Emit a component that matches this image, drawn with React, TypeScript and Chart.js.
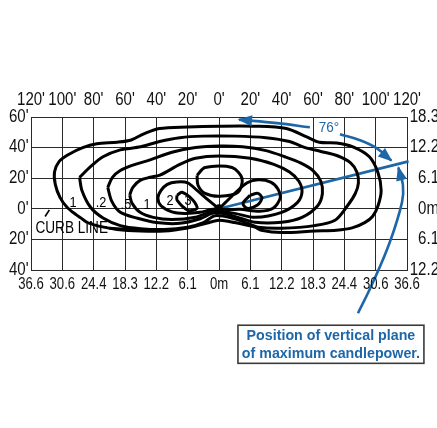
import React, { useEffect, useRef } from "react";
import { Chart, registerables } from "chart.js";

Chart.register(...registerables);

// ---- tick labels ----
const topFeetLabels = ["120'", "100'", "80'", "60'", "40'", "20'", "0'", "20'", "40'", "60'", "80'", "100'", "120'"];
const bottomMeterLabels = ["36.6", "30.6", "24.4", "18.3", "12.2", "6.1", "0m", "6.1", "12.2", "18.3", "24.4", "30.6", "36.6"];
const leftFeetLabels = ["40'", "20'", "0'", "20'", "40'", "60'"];
const rightMeterLabels = ["12.2", "6.1", "0m", "6.1", "12.2", "18.3"];

// ---- isofootcandle contours (feet) ----
const contour01: [number, number][] = [
  [-84, -9], [-91, -4], [-97, 1], [-101.5, 7.5], [-104.5, 16], [-105, 24], [-102, 31], [-96, 35.5], [-87, 40],
  [-78, 42.5], [-65, 43.5], [-56, 45], [-48, 49], [-38, 52.5], [-20, 53.5], [0, 54], [22, 54], [43, 52.5],
  [56, 47], [64, 43.5], [75, 43], [85.5, 40.5], [96, 34], [101.5, 23.5], [103.5, 12], [101.5, 2], [98, -5],
  [93, -9], [85, -12.5], [75, -14], [61, -14.5], [40, -15.5], [27, -14], [23, -12], [10, -9], [0, -7.5],
  [-10, -10], [-20, -12.5], [-35, -14.5], [-50, -14.5], [-65, -13.5], [-76, -11.5], [-84, -9],
];
const contour02: [number, number][] = [
  [-89, 20.5], [-87.5, 12], [-82, 1], [-74, -6], [-63, -11], [-50, -13], [-35, -13.5], [-20, -12], [-10, -9],
  [-2.5, -4.5], [10, -6.5], [18.5, -9.5], [25, -12], [40, -12.7], [61, -11], [74, -7.5], [82, 2], [87, 10],
  [89, 17], [88, 24], [84, 30], [76, 34.5], [65, 37.5], [55, 40], [45, 44], [30, 46.5], [10, 47.5], [-10, 47.5],
  [-25, 46.5], [-38, 44], [-50, 40.5], [-63, 38.5], [-74, 34], [-82, 27.5], [-89, 20.5],
];
const contour05: [number, number][] = [
  [-71, 14], [-68.5, 5], [-63, -2.3], [-52, -6.2], [-40, -9], [-25, -9.5], [-12, -6.5], [-2.5, -2.5], [10, -5],
  [23, -8.8], [40, -8.8], [53, -5.6], [63, 2], [66, 10], [65, 18], [60, 25], [52, 30], [42, 34], [30, 38],
  [15, 40.5], [0, 41], [-15, 40], [-30, 37], [-44, 32], [-55, 28.5], [-63, 25], [-68, 20.5], [-71, 14],
];
const contour1: [number, number][] = [
  [-57, 9], [-55.5, 3.6], [-50.4, -2.3], [-42, -5.6], [-30, -7], [-15, -5.5], [-3, -1.5], [10, -3], [23, -5.6],
  [40, -2.3], [50, 4], [53, 11], [51, 18], [45, 24], [35, 29], [20, 33], [0, 34.5], [-15, 33], [-25, 29],
  [-37.7, 22], [-44, 20.6], [-50.4, 18.6], [-55, 14], [-57, 9],
];
const contour2: [number, number][] = [
  [0, 0], [-6, 5], [-14, 12], [-20, 17], [-27, 17.5], [-33, 16], [-37, 12], [-39, 7], [-37, 2], [-30, -2],
  [-22, -3], [-12, -2.3], [-5, -0.5], [0, 0], [6, -0.5], [13.4, -0.3], [26, -1.6], [34.5, 0.3], [39, 6.9],
  [37.6, 13], [33, 17.5], [25, 19], [18, 17], [10, 10], [4, 4], [0, 0],
];
const contour3Left: [number, number][] = [
  [-26.8, 8.8], [-23.6, 10.8], [-16.6, 5.6], [-14, 0.3], [-19.8, -1], [-26.8, 5.6], [-26.8, 8.8],
];
const contour3Right: [number, number][] = [
  [19.8, 8.8], [24.9, 10.1], [27.4, 6.9], [24.3, 2.3], [17.9, 0.3], [15.3, 3.6], [19.8, 8.8],
];
const contour3Center: [number, number][] = [
  [-14, 21.9], [-8.9, 27], [8.3, 27], [14.7, 19.9], [12.1, 10.8], [0.6, 8.2], [-8.9, 10.1], [-13.4, 15.4], [-14, 21.9],
];
const curbLeader: [number, number][] = [[-70, -12.7], [-55, -13.6], [-42, -14.2]];
const curbTick: [number, number][] = [[-111, -5], [-108.3, -0.8]];

// ---- blue annotation paths (feet) ----
const maxPlaneRay: [number, number][] = [[0, 0], [121, 31]];
const angleArrowLeft: [number, number][] = [[58, 53.3], [37, 56], [12.8, 58.3]];
const angleArrowRight: [number, number][] = [[77.2, 48.7], [90, 44.8], [100.8, 39.5], [110, 31.5]];
const calloutArrow: [number, number][] = [[88.7, -68.3], [98.3, -48], [109, -21.9], [116.8, 4.2], [117.4, 15.4], [114.5, 27]];
const luminaire: [number, number][] = [[0, 0]];

// ---- text annotations ----
const contourLabelTexts = ["1", ".2", ".5", "1", "2", "3"];
const contourLabelX = [-93.2, -75.3, -59.4, -46, -31.3, -19.8];
const contourLabelY = [3.6, 3.6, 2.9, 2.9, 4.9, 4.9];
const curbText = "CURB LINE";
const curbTextAt: [number, number] = [-94, -12.7];
const angleText = "76°";
const angleTextAt: [number, number] = [70.2, 52.6];
const calloutLines = ["Position of vertical plane", "of maximum candlepower."];
const calloutBox: [number, number, number, number] = [12.1, -76.1, 130.8, -101]; // x1,y1,x2,y2 in feet
const calloutBaselines = [-86, -97.4];

const BLUE = "#1d67a8";
const INK = "#000000";
const FONT = "'Liberation Sans', Arial, sans-serif";

const toXY = (pts: [number, number][]) => pts.map(([x, y]) => ({ x, y }));

const arrowDatasetLabels = ["angleArrowLeft", "angleArrowRight", "calloutArrow"];

function condensed(ctx: any, text: string, x: number, y: number, font: string, color: string, sx: number, align: string, base: string) {
  ctx.save();
  ctx.font = font;
  ctx.fillStyle = color;
  ctx.textAlign = align;
  ctx.textBaseline = base;
  ctx.translate(x, y);
  ctx.scale(sx, 1);
  ctx.fillText(text, 0, 0);
  ctx.restore();
}

// draws the four axes' tick labels in a condensed face, at the scales' own tick positions
const tickLabelPlugin = {
  id: "tickLabels",
  afterDraw(chart: any) {
    const { ctx } = chart;
    const f = `17.5px ${FONT}`;
    const fb = `16px ${FONT}`;
    const sx = 0.86;
    const s = chart.scales;
    s.xTop.ticks.forEach((_t: any, i: number) => {
      condensed(ctx, topFeetLabels[i], s.xTop.getPixelForTick(i), s.xTop.bottom - 16.5, f, "#111", sx, "center", "middle");
    });
    s.x.ticks.forEach((_t: any, i: number) => {
      condensed(ctx, bottomMeterLabels[i], s.x.getPixelForTick(i), s.x.top + 15, fb, "#111", 0.82, "center", "middle");
    });
    s.y.ticks.forEach((_t: any, i: number) => {
      condensed(ctx, leftFeetLabels[i], s.y.right - 2.5, s.y.getPixelForTick(i), f, "#111", sx, "right", "middle");
    });
    s.yRight.ticks.forEach((_t: any, i: number) => {
      condensed(ctx, rightMeterLabels[i], s.yRight.right + 2, s.yRight.getPixelForTick(i), f, "#111", sx, "right", "middle");
    });
  },
};

const overlayPlugin = {
  id: "overlay",
  afterDatasetsDraw(chart: any) {
    const { ctx } = chart;
    const xs = chart.scales.x;
    const ys = chart.scales.y;
    const px = (v: number) => xs.getPixelForValue(v);
    const py = (v: number) => ys.getPixelForValue(v);
    ctx.save();

    // arrowheads
    chart.data.datasets.forEach((ds: any, i: number) => {
      if (!arrowDatasetLabels.includes(ds.label)) return;
      const meta = chart.getDatasetMeta(i);
      const pts = meta.data;
      const last = pts[pts.length - 1];
      const prev = pts[pts.length - 2];
      let fx = last.cp1x, fy = last.cp1y;
      if (fx === undefined || (Math.abs(fx - last.x) < 0.5 && Math.abs(fy - last.y) < 0.5)) {
        fx = prev.x; fy = prev.y;
      }
      let dx = last.x - fx, dy = last.y - fy;
      const len = Math.hypot(dx, dy) || 1;
      dx /= len; dy /= len;
      const L = 13, W = 5.5;
      const bx = last.x - dx * L, by = last.y - dy * L;
      ctx.fillStyle = BLUE;
      ctx.beginPath();
      ctx.moveTo(last.x + dx * 1.5, last.y + dy * 1.5);
      ctx.lineTo(bx - dy * W, by + dx * W);
      ctx.lineTo(bx + dy * W, by - dx * W);
      ctx.closePath();
      ctx.fill();
    });

    // contour labels
    contourLabelTexts.forEach((t, i) => {
      condensed(ctx, t, px(contourLabelX[i]), py(contourLabelY[i]), `15px ${FONT}`, INK, 0.85, "center", "middle");
    });
    condensed(ctx, curbText, px(curbTextAt[0]), py(curbTextAt[1]), `16px ${FONT}`, INK, 0.85, "center", "middle");
    condensed(ctx, angleText, px(angleTextAt[0]), py(angleTextAt[1]), `15px ${FONT}`, BLUE, 0.9, "center", "middle");

    // callout box
    const bx1 = px(calloutBox[0]), by1 = py(calloutBox[1]);
    const bx2 = px(calloutBox[2]), by2 = py(calloutBox[3]);
    ctx.fillStyle = "#ffffff";
    ctx.fillRect(bx1, by1, bx2 - bx1, by2 - by1);
    ctx.strokeStyle = "#3a3a3a";
    ctx.lineWidth = 1.6;
    ctx.strokeRect(bx1, by1, bx2 - bx1, by2 - by1);
    const cx = (bx1 + bx2) / 2;
    calloutLines.forEach((t, i) => {
      condensed(ctx, t, cx, py(calloutBaselines[i]), `bold 15px ${FONT}`, BLUE, 0.95, "center", "alphabetic");
    });
    ctx.restore();
  },
};

export default function App() {
  const canvasRef = useRef<HTMLCanvasElement | null>(null);

  useEffect(() => {
    const canvas = canvasRef.current;
    if (!canvas) return;

    const contourStyle = (label: string, pts: [number, number][]) => ({
      label,
      data: toXY(pts),
      borderColor: INK,
      borderWidth: 3,
      pointRadius: 0,
      fill: false,
      tension: 0.3,
      xAxisID: "x",
      yAxisID: "y",
    });
    const blueStyle = (label: string, pts: [number, number][], tension: number) => ({
      label,
      data: toXY(pts),
      borderColor: BLUE,
      borderWidth: 2.6,
      pointRadius: 0,
      fill: false,
      tension,
      clip: false,
      xAxisID: "x",
      yAxisID: "y",
    });

    const hiddenTicks = { stepSize: 20, autoSkip: false, display: false };

    const chart = new Chart(canvas, {
      type: "line",
      data: {
        datasets: [
          contourStyle("0.1 fc", contour01),
          contourStyle("0.2 fc", contour02),
          contourStyle("0.5 fc", contour05),
          contourStyle("1 fc", contour1),
          contourStyle("2 fc", contour2),
          contourStyle("3 fc left", contour3Left),
          contourStyle("3 fc right", contour3Right),
          contourStyle("3 fc center", contour3Center),
          { ...contourStyle("curb", curbLeader), tension: 0.2 },
          { ...contourStyle("curbTick", curbTick), borderWidth: 1.6, tension: 0 },
          blueStyle("maxPlaneRay", maxPlaneRay, 0),
          blueStyle("angleArrowLeft", angleArrowLeft, 0.4),
          blueStyle("angleArrowRight", angleArrowRight, 0.4),
          blueStyle("calloutArrow", calloutArrow, 0.4),
          {
            label: "luminaire",
            data: toXY(luminaire),
            showLine: false,
            pointRadius: 4.5,
            pointBackgroundColor: INK,
            pointBorderWidth: 0,
            xAxisID: "x",
            yAxisID: "y",
          },
        ],
      },
      options: {
        responsive: false,
        animation: false,
        events: [],
        layout: { padding: 0 },
        plugins: { legend: { display: false }, tooltip: { enabled: false } },
        scales: {
          x: {
            type: "linear",
            position: "bottom",
            min: -120,
            max: 120,
            ticks: hiddenTicks,
            grid: { color: "#2a2a2a", lineWidth: 1, drawTicks: false },
            border: { color: "#2a2a2a", width: 1 },
            afterFit: (s: any) => { s.height = 158; },
          },
          xTop: {
            type: "linear",
            position: "top",
            min: -120,
            max: 120,
            ticks: hiddenTicks,
            grid: { drawOnChartArea: false, drawTicks: false },
            border: { color: "#2a2a2a", width: 1 },
            afterFit: (s: any) => { s.height = 117; },
          },
          y: {
            type: "linear",
            position: "left",
            min: -40,
            max: 60,
            ticks: hiddenTicks,
            grid: { color: "#2a2a2a", lineWidth: 1, drawTicks: false },
            border: { color: "#2a2a2a", width: 1 },
            afterFit: (s: any) => { s.width = 31; },
          },
          yRight: {
            type: "linear",
            position: "right",
            min: -40,
            max: 60,
            ticks: hiddenTicks,
            grid: { drawOnChartArea: false, drawTicks: false },
            border: { color: "#2a2a2a", width: 1 },
            afterFit: (s: any) => { s.width = 30; },
          },
        },
      },
      plugins: [overlayPlugin, tickLabelPlugin],
    } as any);

    return () => chart.destroy();
  }, []);

  return (
    <div style={{ position: "absolute", left: 0, top: 0, width: 437, height: 428, background: "#fff" }}>
      <canvas ref={canvasRef} width={437} height={428} style={{ display: "block", width: 437, height: 428 }} />
    </div>
  );
}
